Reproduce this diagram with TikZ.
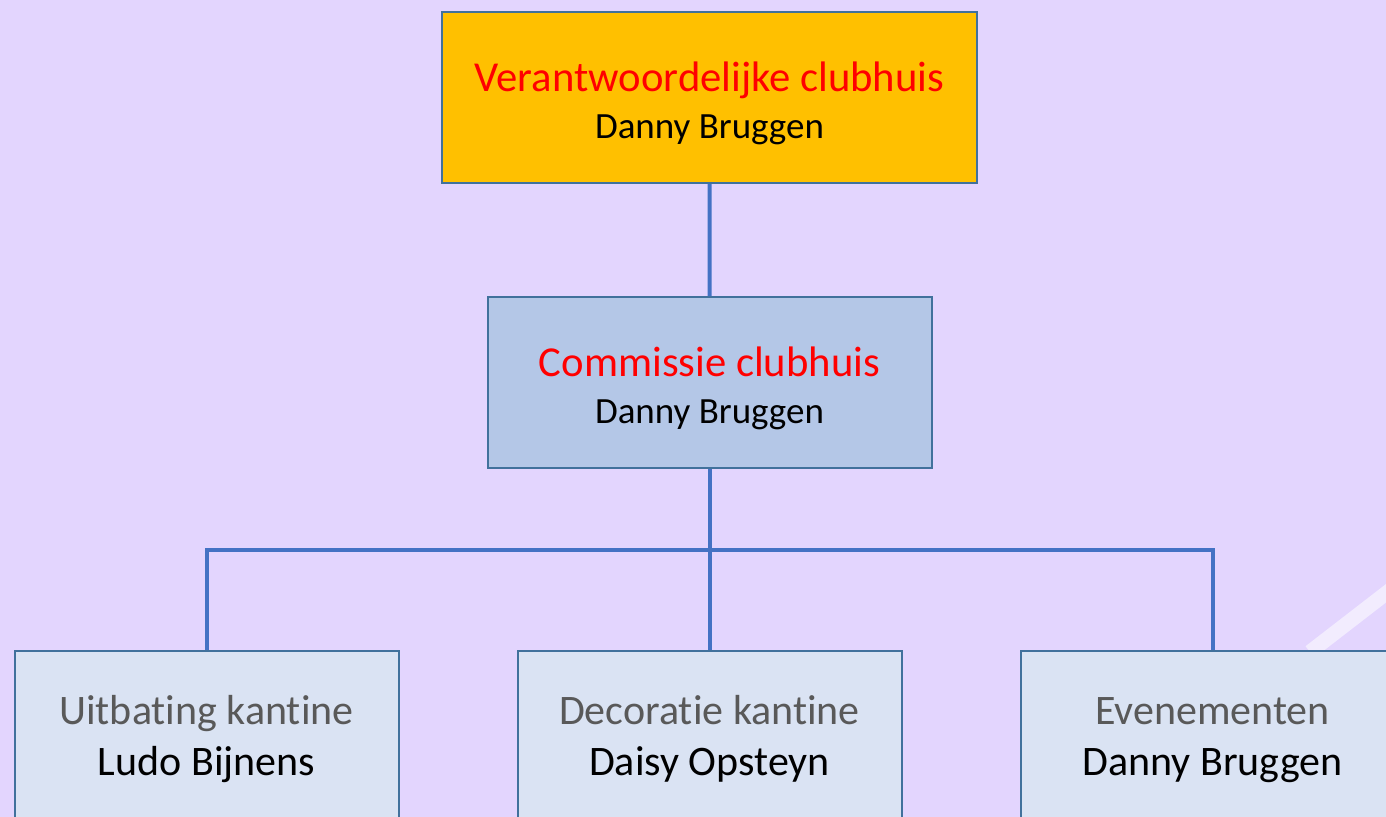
\documentclass[tikz,border=0pt]{standalone}
\usepackage{fontspec}
\setmainfont{Carlito}[Ligatures=NoCommon]
\usepackage{tikz}
\usetikzlibrary{trees}

\definecolor{bgviolet}{HTML}{E3D5FE}
\definecolor{boxgold}{HTML}{FFC000}
\definecolor{boxblue}{HTML}{B4C7E7}
\definecolor{boxpale}{HTML}{DAE3F3}
\definecolor{rimblue}{HTML}{41719C}
\definecolor{linkblue}{HTML}{4472C4}
\definecolor{titlered}{HTML}{FF0000}
\definecolor{taskgrey}{HTML}{595959}

% first line of a box, a little lower
\newcommand{\redtitle}[1]{\rule{0pt}{31pt}\textcolor{titlered}{\fontsize{32}{35.25}\selectfont #1}}
\newcommand{\greytitle}[1]{\rule{0pt}{26pt}\textcolor{taskgrey}{#1}}

\begin{document}
\begin{tikzpicture}
[x=0.75pt, y=-0.75pt, grow = down,
  orgbox/.style={draw=rimblue, line width=1.5pt, align=center, inner sep=0pt,
    minimum height=128.25pt},
  topbox/.style={orgbox, fill=boxgold, minimum width=401.25pt,
    font=\fontsize{27.75}{35.25}\selectfont},
  commbox/.style={orgbox, fill=boxblue, minimum width=333pt,
    font=\fontsize{27.75}{35.25}\selectfont},
  taskbox/.style={orgbox, fill=boxpale, minimum width=288pt,
    font=\fontsize{31.5}{38.25}\selectfont},
  edge from parent/.style={draw, linkblue, line width=3pt},
  level 1/.style={level distance=213.75pt},
  level 2/.style={level distance=265.5pt, sibling distance=377.25pt,
    edge from parent path={(\tikzparentnode.south) -- ++(0,-60.75pt)
      -| (\tikzchildnode.north)}}] % fork a bit higher than 'fork down'
  \useasboundingbox (0,0) rectangle (1386,817);
  \clip (0,0) rectangle (1386,817);
  \fill[bgviolet] (0,0) rectangle (1386,817);
  % light stripe at the right edge
  \draw[white, opacity=0.55, line width=11pt] (1310,652) -- (1420,567);
  \node (verantw) at (709.5,97.5) [topbox]
    {\redtitle{Verantwoordelijke clubhuis}\\Danny Bruggen}
    child { node (commissie) [commbox]
      {\redtitle{Commissie clubhuis}\\Danny Bruggen}
      child { node (uitbating) [taskbox]
        {\greytitle{Uitbating kantine}\\Ludo Bijnens}}
      child { node (decoratie) [taskbox]
        {\greytitle{Decoratie kantine}\\Daisy Opsteyn}}
      child { node (evenementen) [taskbox]
        {\greytitle{Evenementen}\\Danny Bruggen}}
    };
\end{tikzpicture}
\end{document}
